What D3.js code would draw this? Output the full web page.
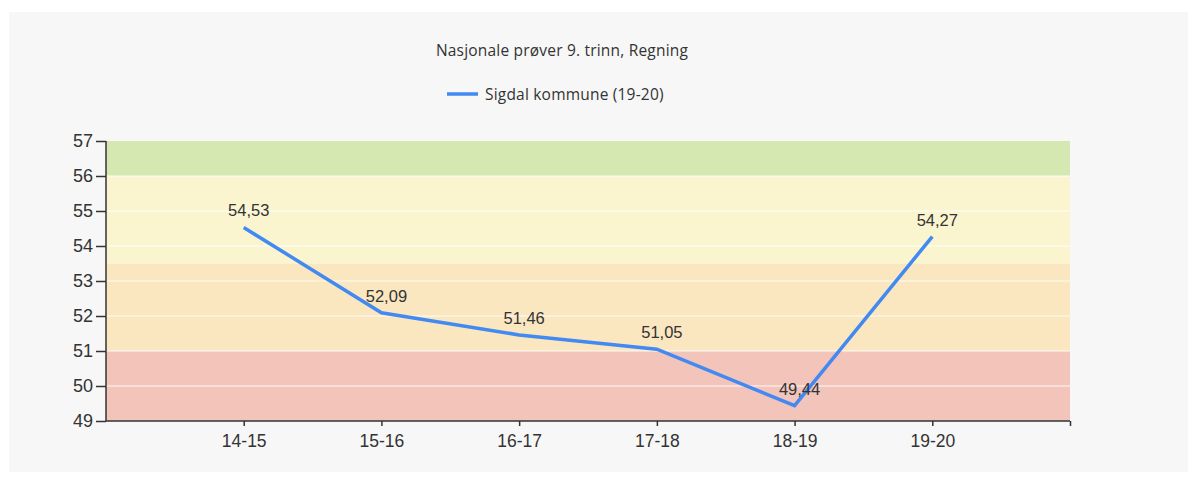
<!DOCTYPE html>
<meta charset="utf-8">
<script src="https://d3js.org/d3.v7.min.js"></script>
<style>
  body { margin: 0; background: #fff; }
  text { font-family: "Liberation Sans", Arial, sans-serif; }
</style>
<body>
<div id="canvas"></div>
<script>
// data
var categories = ["14-15", "15-16", "16-17", "17-18", "18-19", "19-20"];
var values = [54.53, 52.09, 51.46, 51.05, 49.44, 54.27];
var yTicks = [49, 50, 51, 52, 53, 54, 55, 56, 57];
// coloured bands behind the line [from, to]
var bandLimits = [[49, 51], [51, 53.5], [53.5, 56], [56, 57]];
var bandColors = ["#f2c4ba", "#fae7c0", "#faf5cf", "#d6e8b1"];

var width = 1196, height = 477;
// plot area (note: "top" is reserved on window, so use other names)
var pLeft = 106, pRight = 1070, pTop = 141, pBottom = 421;

var svg = d3.select("#canvas").append("svg")
    .attr("width", width)
    .attr("height", height);

// grey card
svg.append("rect")
    .attr("x", 9).attr("y", 12)
    .attr("width", 1179).attr("height", 460)
    .attr("fill", "#f7f7f7");

var x = d3.scaleLinear().domain([0, categories.length + 1]).range([pLeft, pRight]);
var y = d3.scaleLinear().domain([49, 57]).range([pBottom, pTop]);

// bands
svg.selectAll("rect.band")
    .data(bandLimits)
    .enter().append("rect")
    .attr("class", "band")
    .attr("x", pLeft)
    .attr("width", pRight - pLeft)
    .attr("y", function(d) { return y(d[1]); })
    .attr("height", function(d) { return y(d[0]) - y(d[1]); })
    .attr("fill", function(d, i) { return bandColors[i]; });

// light gridlines
svg.selectAll("line.grid")
    .data(yTicks.slice(1, -1))
    .enter().append("line")
    .attr("x1", pLeft).attr("x2", pRight)
    .attr("y1", function(d) { return y(d); })
    .attr("y2", function(d) { return y(d); })
    .attr("stroke", "#ffffff")
    .attr("stroke-opacity", 0.6)
    .attr("stroke-width", 1.5);

// y axis
var yAxis = svg.append("g")
    .attr("transform", "translate(" + pLeft + ",0)")
    .call(d3.axisLeft(y).tickValues(yTicks).tickSize(10).tickPadding(3).tickFormat(d3.format("d")));
yAxis.select(".domain").attr("stroke", "#333").attr("stroke-width", 1.5).attr("d", "M0," + pTop + "V" + pBottom);
yAxis.selectAll(".tick line").attr("stroke", "#333").attr("stroke-width", 1.5);
yAxis.selectAll("text").attr("fill", "#333").attr("font-size", 18).style("font-size", "18px");

// x axis
var xTickVals = d3.range(1, categories.length + 2);
var xAxis = svg.append("g")
    .attr("transform", "translate(0," + pBottom + ")")
    .call(d3.axisBottom(x).tickValues(xTickVals).tickSize(5).tickPadding(9)
        .tickFormat(function(d) { return categories[d - 1] || ""; }));
xAxis.select(".domain").attr("stroke", "#333").attr("stroke-width", 1.5).attr("d", "M" + pLeft + ",0H" + pRight);
xAxis.selectAll(".tick line").attr("stroke", "#333").attr("stroke-width", 1.5);
xAxis.selectAll("text").attr("fill", "#333").attr("font-size", 17.5).style("font-size", "17.5px");

// line
var line = d3.line()
    .x(function(d, i) { return x(i + 1); })
    .y(function(d) { return y(d); });

svg.append("path")
    .datum(values)
    .attr("d", line)
    .attr("fill", "none")
    .attr("stroke", "#4289f2")
    .attr("stroke-width", 3.5);

// value labels
svg.selectAll("text.val")
    .data(values)
    .enter().append("text")
    .attr("class", "val")
    .attr("x", function(d, i) { return x(i + 1) + 5; })
    .attr("y", function(d) { return y(d) - 11; })
    .attr("text-anchor", "middle")
    .attr("fill", "#333")
    .style("font-size", "16.5px")
    .text(function(d) { return d.toFixed(2).replace(".", ","); });

// title
svg.append("text")
    .attr("x", 562).attr("y", 56)
    .attr("text-anchor", "middle")
    .attr("fill", "#333")
    .style("font-family", "'Open Sans', sans-serif")
    .style("font-size", "15.5px")
    .style("letter-spacing", "0.2px")
    .text("Nasjonale prøver 9. trinn, Regning");

// legend
svg.append("line")
    .attr("x1", 447).attr("x2", 478)
    .attr("y1", 94).attr("y2", 94)
    .attr("stroke", "#4289f2")
    .attr("stroke-width", 3.5);
svg.append("text")
    .attr("x", 485).attr("y", 100)
    .attr("fill", "#333")
    .style("font-family", "'Open Sans', sans-serif")
    .style("font-size", "15.5px")
    .style("letter-spacing", "0.2px")
    .text("Sigdal kommune (19-20)");
</script>
</body>
